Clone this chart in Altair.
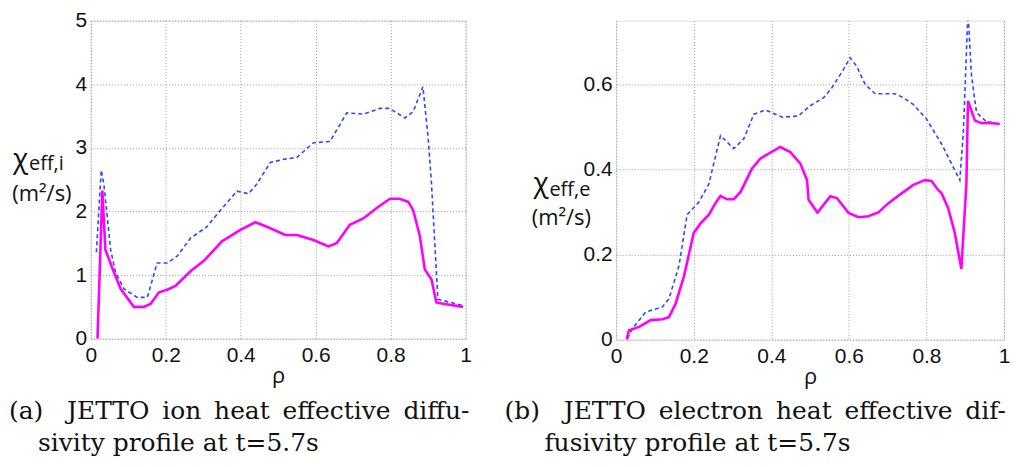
import altair as alt
import pandas as pd

# ---- Panel (a): ion heat effective diffusivity ----
ion_dash_rho = [0.015, 0.028, 0.035, 0.053, 0.066, 0.089, 0.124, 0.151, 0.177, 0.204, 0.231, 0.266,
                0.31, 0.346, 0.39, 0.421, 0.443, 0.479, 0.514, 0.55, 0.594, 0.638, 0.683, 0.727,
                0.771, 0.797, 0.838, 0.86, 0.886, 0.9, 0.909, 0.926, 0.993]
ion_dash_val = [1.36, 2.65, 2.43, 1.40, 1.04, 0.78, 0.65, 0.65, 1.19, 1.19, 1.30, 1.58,
                1.76, 2.02, 2.32, 2.28, 2.43, 2.77, 2.82, 2.85, 3.08, 3.10, 3.55, 3.53,
                3.62, 3.62, 3.47, 3.57, 3.96, 3.16, 2.43, 0.62, 0.52]

ion_solid_rho = [0.018, 0.031, 0.039, 0.062, 0.08, 0.115, 0.142, 0.16, 0.182, 0.204, 0.226, 0.266,
                 0.301, 0.35, 0.399, 0.439, 0.47, 0.519, 0.55, 0.594, 0.634, 0.656, 0.691, 0.727,
                 0.762, 0.798, 0.824, 0.847, 0.86, 0.878, 0.891, 0.909, 0.922, 0.94, 0.993]
ion_solid_val = [0.0, 2.33, 1.40, 1.04, 0.78, 0.50, 0.50, 0.55, 0.73, 0.77, 0.83, 1.06,
                 1.22, 1.53, 1.71, 1.83, 1.76, 1.63, 1.63, 1.55, 1.45, 1.50, 1.79, 1.89,
                 2.05, 2.20, 2.20, 2.15, 2.02, 1.61, 1.09, 0.93, 0.57, 0.55, 0.50]

# ---- Panel (b): electron heat effective diffusivity ----
ele_dash_rho = [0.029, 0.042, 0.076, 0.119, 0.136, 0.162, 0.183, 0.213, 0.239, 0.269, 0.303, 0.329,
                0.355, 0.385, 0.428, 0.47, 0.5, 0.535, 0.556, 0.586, 0.603, 0.62, 0.642, 0.668,
                0.719, 0.74, 0.766, 0.8, 0.839, 0.886, 0.895, 0.907, 0.916, 0.929, 0.954, 0.989]
ele_dash_val = [0.003, 0.026, 0.065, 0.077, 0.096, 0.174, 0.294, 0.323, 0.366, 0.48, 0.449, 0.472,
                0.530, 0.540, 0.523, 0.526, 0.55, 0.569, 0.592, 0.635, 0.663, 0.643, 0.60, 0.578,
                0.578, 0.569, 0.553, 0.519, 0.46, 0.375, 0.484, 0.77, 0.623, 0.534, 0.513, 0.507]

ele_solid_rho = [0.027, 0.033, 0.059, 0.089, 0.119, 0.136, 0.153, 0.175, 0.2, 0.218, 0.239, 0.256,
                 0.269, 0.286, 0.303, 0.321, 0.35, 0.372, 0.423, 0.449, 0.475, 0.492, 0.496, 0.519,
                 0.552, 0.569, 0.599, 0.625, 0.65, 0.676, 0.702, 0.736, 0.766, 0.796, 0.813, 0.83,
                 0.839, 0.856, 0.873, 0.89, 0.903, 0.907, 0.925, 0.942, 0.959, 0.989]
ele_solid_val = [0.0, 0.022, 0.030, 0.046, 0.048, 0.053, 0.084, 0.150, 0.251, 0.274, 0.294, 0.321,
                 0.338, 0.330, 0.330, 0.348, 0.402, 0.426, 0.453, 0.441, 0.414, 0.375, 0.329, 0.299,
                 0.337, 0.333, 0.298, 0.288, 0.290, 0.299, 0.321, 0.344, 0.364, 0.375, 0.373, 0.352,
                 0.344, 0.309, 0.251, 0.166, 0.367, 0.561, 0.515, 0.509, 0.51, 0.507]

x_ticks = [0, 0.2, 0.4, 0.6, 0.8, 1]
ion_y_ticks = [0, 1, 2, 3, 4, 5]
ele_y_ticks = [0, 0.2, 0.4, 0.6]

NB = "\u00a0"
WS = "\u00a0\u2009"
cap_a = ["(a)" + NB * 3 + WS.join(["JETTO", "ion", "heat", "effective", "diffu-"]),
         "sivity profile at t=5.7s"]
cap_b = ["(b)" + NB * 3 + WS.join(["JETTO", "electron", "heat", "effective", "dif-"]),
         "fusivity profile at t=5.7s"]

BLUE = "#2a48ff"
MAGENTA = "#ff00ff"
SANS = "Liberation Sans"
LBL = "Open Sans"
SERIF = "DejaVu Serif"


def axis_x():
    return alt.Axis(values=x_ticks, format="~g", grid=True, gridColor="#9a9a9a",
                    gridDash=[1, 2], gridWidth=1, domain=False, ticks=False,
                    labelFont=SANS, labelFontSize=21, labelColor="#111", labelPadding=6,
                    labelFlush=False,
                    title="ρ", titleFont=LBL, titleFontSize=22, titleFontWeight="normal",
                    titleColor="#111", titlePadding=0)


def axis_y(vals):
    return alt.Axis(values=vals, format="~g", grid=True, gridColor="#9a9a9a",
                    gridDash=[1, 2], gridWidth=1, domain=False, ticks=False,
                    labelFont=SANS, labelFontSize=21, labelColor="#111", labelPadding=4,
                    labelFlush=False, title=None)


def panel(d_rho, d_val, s_rho, s_val, ydom, yticks, sub, lab, cap, w, h):
    dfd = pd.DataFrame({"rho": d_rho, "val": d_val})
    dfs = pd.DataFrame({"rho": s_rho, "val": s_val})
    xenc = alt.X("rho:Q", scale=alt.Scale(domain=[0, 1], nice=False), axis=axis_x())
    yenc = alt.Y("val:Q", scale=alt.Scale(domain=ydom, nice=False), axis=axis_y(yticks))
    dash = alt.Chart(dfd).mark_line(color=BLUE, strokeWidth=1.6, strokeDash=[4, 3],
                                    clip=True).encode(x=xenc, y=yenc)
    solid = alt.Chart(dfs).mark_line(color=MAGENTA, strokeWidth=2.6, clip=True).encode(
        x=alt.X("rho:Q"), y=alt.Y("val:Q"))
    one = pd.DataFrame({"k": [0]})
    chi = alt.Chart(one).mark_text(text="χ", font=LBL, fontSize=28, align="left",
                                   baseline="middle", color="#111").encode(
        x=alt.value(lab["chi_x"]), y=alt.value(lab["chi_y"]))
    subt = alt.Chart(one).mark_text(text=sub, font=LBL, fontSize=20, align="left",
                                    baseline="alphabetic", color="#111").encode(
        x=alt.value(lab["sub_x"]), y=alt.value(lab["sub_y"]))
    unit = alt.Chart(one).mark_text(text="(m²/s)", font=LBL, fontSize=22, align="center",
                                    baseline="middle", color="#111").encode(
        x=alt.value(lab["unit_x"]), y=alt.value(lab["unit_y"]))
    c1 = alt.Chart(one).mark_text(text=cap[0], font=SERIF, fontSize=25, align="left",
                                  baseline="middle", color="#111").encode(
        x=alt.value(lab["cap_x"]), y=alt.value(392))
    c2 = alt.Chart(one).mark_text(text=cap[1], font=SERIF, fontSize=25, align="left",
                                  baseline="middle", color="#111").encode(
        x=alt.value(lab["cap2_x"]), y=alt.value(424))
    return alt.layer(dash, solid, chi, subt, unit, c1, c2).properties(width=w, height=h)


left = panel(ion_dash_rho, ion_dash_val, ion_solid_rho, ion_solid_val, [0, 5], ion_y_ticks,
             "eff,i",
             dict(chi_x=-78, chi_y=140, sub_x=-62, sub_y=150, unit_x=-49, unit_y=174,
                  cap_x=-82, cap2_x=-53),
             cap_a, 376, 319)
right = panel(ele_dash_rho, ele_dash_val, ele_solid_rho, ele_solid_val, [0, 0.75], ele_y_ticks,
              "eff,e",
              dict(chi_x=-83, chi_y=164, sub_x=-67, sub_y=176, unit_x=-55, unit_y=198,
                   cap_x=-112, cap2_x=-72),
              cap_b, 389, 320)

chart = alt.hconcat(left, right, spacing=151, bounds="flush").properties(
    padding={"left": 0, "top": 0, "right": 0, "bottom": 0}
).configure_view(stroke="#8a8a8a", strokeWidth=1.2).configure(background="white")

chart.save("out.html", embed_options={"renderer": "svg", "actions": False})
